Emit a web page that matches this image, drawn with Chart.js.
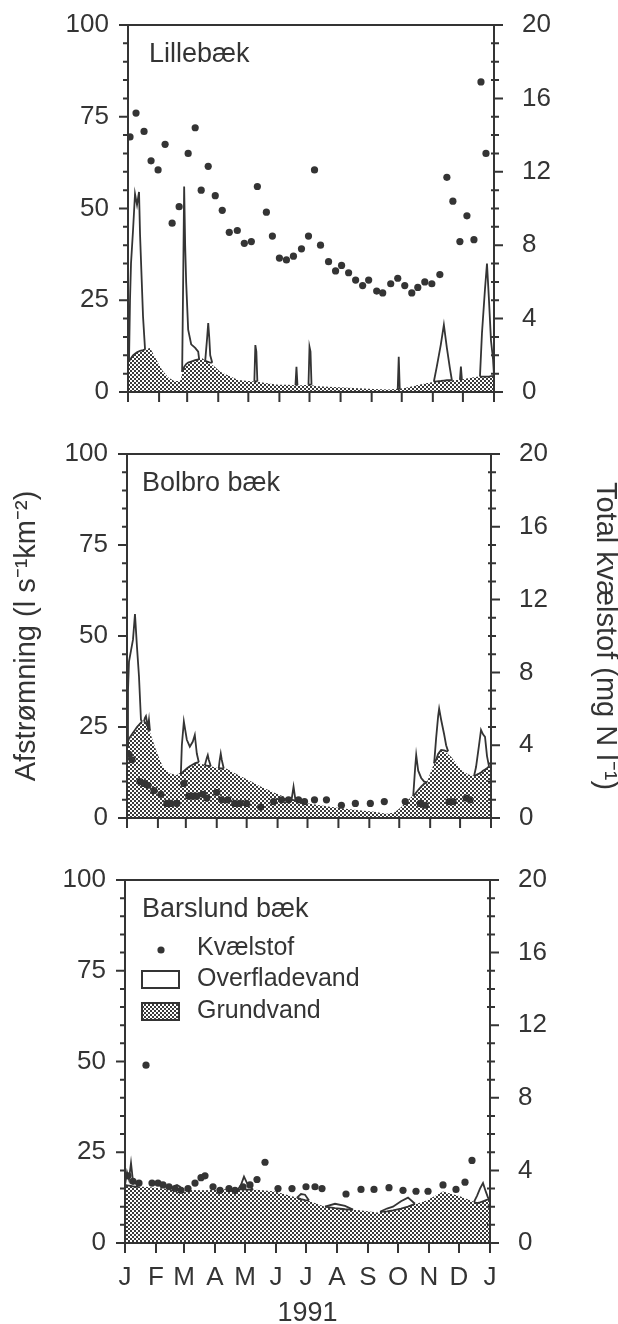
<!DOCTYPE html>
<html>
<head>
<meta charset="utf-8">
<script src="https://cdn.jsdelivr.net/npm/chart.js@4/dist/chart.umd.min.js"></script>
<style>
  html, body { margin: 0; background: #fff; }
  #wrap { position: relative; width: 618px; height: 1324px; overflow: hidden; }
  canvas { position: absolute; left: 0; }
</style>
</head>
<body>
<div id="wrap">
  <canvas id="lille" width="618" height="430" style="top:0"></canvas>
  <canvas id="bolbro" width="618" height="430" style="top:430px"></canvas>
  <canvas id="barslund" width="618" height="464" style="top:860px"></canvas>
</div>
<script>
const INK = '#343434';
const FONT = '"Liberation Sans", Arial, Helvetica, sans-serif';

// -- Axes ---------------------------------------------------------------
const monthStart = [0, 31, 59, 90, 120, 151, 181, 212, 243, 273, 304, 334, 365];
const monthLetters = ['J', 'F', 'M', 'A', 'M', 'J', 'J', 'A', 'S', 'O', 'N', 'D', 'J'];

// -- Lillebæk -------------------------------------------------------------
const lilleNDays = [2, 8, 16, 23, 30, 37, 44, 51, 60, 67, 73, 80, 87, 94, 101, 109, 116, 123, 129, 138,
    144, 151, 158, 165, 173, 180, 186, 192, 200, 207, 213, 220, 227, 234, 240, 248, 254, 262, 269, 276,
    283, 289, 296, 303, 311, 318, 324, 331, 338, 345, 352, 357];
const lilleN = [13.9, 15.2, 14.2, 12.6, 12.1, 13.5, 9.2, 10.1, 13.0, 14.4, 11.0, 12.3, 10.7, 9.9, 8.7, 8.8, 8.1, 8.2, 11.2, 9.8,
    8.5, 7.3, 7.2, 7.4, 7.8, 8.5, 12.1, 8.0, 7.1, 6.6, 6.9, 6.5, 6.1, 5.8, 6.1, 5.5, 5.4, 5.9, 6.2, 5.8,
    5.4, 5.7, 6.0, 5.9, 6.4, 11.7, 10.4, 8.2, 9.6, 8.3, 16.9, 13.0];
const lilleGwDays = [0, 5, 10, 16, 22, 28, 34, 40, 46, 52, 56, 62, 68, 74, 80, 86, 92, 100, 110, 120, 130,
    140, 150, 160, 170, 180, 190, 200, 215, 230, 245, 260, 275, 290, 300, 310, 320, 330, 340, 350, 358, 365];
const lilleGw = [8, 10, 11, 11.5, 12, 9, 6, 4, 3, 3, 7, 8.5, 9, 9.2, 8, 7, 5.5, 4.5, 3.3, 3, 2.8,
    2.3, 2, 2, 1.8, 2, 1.6, 1.4, 1.2, 1, 0.8, 0.7, 1, 2, 2.5, 3, 3.2, 3.3, 3.8, 4.2, 4.2, 4.5];
// surface-water events, separated by null
const lilleSurfDays = [1, 2, 3, 5, 7, 9, 11, 12, 15, 17, null,
    54, 55, 56, 57, 58, 60, 63, 67, 70, 71, null,
    77, 79, 80, 81, 82, 84, null,
    126, 127, 128, 129, null,
    167, 168, 169, null,
    180, 181, 182, 183, null,
    269, 270, 271, null,
    305, 308, 312, 315, 318, 321, 323, null,
    331, 332, 333, null,
    351, 353, 356, 358, 360, 362, 364, 365];
const lilleSurfTop = [8.4, 25, 35, 44, 54, 51, 54.5, 43, 20.5, 11.6, null,
    5.5, 30, 56, 40, 30, 17, 13, 12, 11, 8.8, null,
    8.5, 15, 18.8, 15, 10, 8, null,
    2.9, 12.8, 11, 2.9, null,
    1.9, 6.9, 1.9, null,
    2, 12.3, 11, 2, null,
    0.8, 9.6, 0.8, null,
    2.8, 7, 13, 18.3, 12, 6.5, 3.2, null,
    3.3, 6.9, 3.3, null,
    4.2, 16, 28, 35, 25, 14, 9, 4.5];
const lilleSurfBase = [8.4, 8.8, 9.2, 10, 10.4, 10.8, 11.1, 11.2, 11.4, 11.6, null,
    5.5, 6.2, 6.8, 7.2, 7.6, 8, 8.3, 8.7, 8.9, 8.8, null,
    8.5, 8.3, 8.2, 8.1, 8, 8, null,
    2.9, 2.9, 2.9, 2.9, null,
    1.9, 1.9, 1.9, null,
    2, 2, 2, 2, null,
    0.8, 0.8, 0.8, null,
    2.8, 2.9, 3, 3.1, 3.2, 3.2, 3.2, null,
    3.3, 3.3, 3.3, null,
    4.2, 4.2, 4.2, 4.2, 4.2, 4.3, 4.4, 4.5];

// -- Bolbro bæk -----------------------------------------------------------
const bolNDays = [2, 5, 13, 17, 21, 27, 34, 40, 44, 50, 57, 62, 66, 70, 76, 80, 90, 95, 101, 108,
    113, 120, 134, 147, 155, 162, 172, 178, 188, 200, 215, 229, 244, 258, 279, 294, 299, 323, 327, 340, 344];
const bolN = [3.5, 3.2, 2.0, 1.9, 1.8, 1.5, 1.3, 0.8, 0.8, 0.8, 1.9, 1.2, 1.2, 1.2, 1.3, 1.1, 1.4, 1.0, 1.0, 0.8,
    0.8, 0.8, 0.6, 0.9, 1.0, 1.0, 1.0, 0.9, 1.0, 1.0, 0.7, 0.8, 0.8, 0.9, 0.9, 0.8, 0.7, 0.9, 0.9, 1.1, 1.0];
const bolGwDays = [0, 5, 10, 15, 20, 25, 30, 36, 42, 50, 56, 62, 68, 76, 84, 92, 100, 110, 122, 135,
    149, 165, 182, 200, 215, 230, 248, 260, 268, 275, 282, 290, 295, 301, 305, 310, 315, 320, 325, 335,
    342, 349, 355, 362, 365];
const bolGw = [20, 22.6, 25, 26.5, 26, 22, 18, 14, 12.3, 11.8, 13, 14.5, 15.1, 14.8, 14.2, 13.7, 13.5, 12, 10.4, 8.5,
    6.8, 5, 4, 3.2, 2.7, 2.2, 1.7, 1.2, 1.5, 3, 5, 7, 8.6, 10, 13, 16.5, 18.7, 18, 16.8, 13.2,
    12, 11.4, 12.5, 14, 14.5];
const bolSurfDays = [0, 1, 2, 4, 6, 8, 10, 12, 14, 15, null,
    17, 18, 19, 21, 22, 23, null,
    54, 55, 57, 60, 63, 66, 68, 70, 72, null,
    78, 80, 81, 82, 84, null,
    92, 93, 94, 95, 97, null,
    165, 167, 169, null,
    287, 289, 290, 292, 295, 298, 301, null,
    308, 310, 312, 313, 315, 318, 320, 322, null,
    348, 350, 353, 355, 357, 359, 361, 363];
const bolSurfTop = [20, 35, 43, 46, 49, 56, 47, 39, 27, 26.5, null,
    26.5, 27.5, 28, 25, 27, 24, null,
    12, 20, 26.5, 21.5, 19.6, 21, 22.8, 17.7, 15.3, null,
    14.5, 16.5, 17.3, 16, 14.2, null,
    13.7, 16, 17.7, 16, 13.6, null,
    5, 8.6, 4.8, null,
    6, 14, 17.3, 13, 11, 10, 9.8, null,
    15, 22, 28, 30, 27, 23, 20, 18.3, null,
    11.5, 14, 20, 24.2, 23, 22.3, 17, 14.2];
const bolSurfBase = [20, 21, 21.8, 22.6, 23.4, 24.2, 25, 25.6, 26.2, 26.5, null,
    26.5, 26.3, 26, 25, 24.5, 24, null,
    12, 12.3, 12.9, 13.6, 14.2, 14.7, 15, 15.2, 15.3, null,
    14.5, 14.4, 14.3, 14.3, 14.2, null,
    13.7, 13.7, 13.6, 13.6, 13.6, null,
    5, 4.9, 4.8, null,
    6, 6.6, 7, 7.7, 8.6, 9.4, 9.8, null,
    15, 16, 17.6, 18, 18.7, 18.6, 18.4, 18.3, null,
    11.5, 11.8, 12.2, 12.5, 13, 13.3, 13.7, 14.2];

// -- Barslund bæk ---------------------------------------------------------
const barsNDays = [3, 8, 14, 21, 27, 33, 38, 44, 50, 56, 63, 70, 76, 80, 88, 95, 104, 110, 118, 125,
    132, 140, 153, 167, 181, 190, 197, 221, 236, 249, 264, 278, 291, 303, 318, 331, 340, 347];
const barsN = [3.7, 3.4, 3.3, 9.8, 3.3, 3.3, 3.2, 3.1, 3.0, 2.9, 3.0, 3.3, 3.6, 3.7, 3.1, 2.9, 3.0, 2.9, 3.1, 3.2,
    3.5, 4.45, 3.0, 3.0, 3.1, 3.1, 3.0, 2.7, 2.95, 2.95, 3.05, 2.9, 2.85, 2.85, 3.2, 2.95, 3.35, 4.55];
const barsGwDays = [0, 10, 20, 30, 45, 60, 80, 100, 118, 135, 150, 168, 185, 202, 218, 235, 252, 268, 285, 302,
    318, 335, 352, 362, 365];
const barsGw = [16, 15.5, 15.5, 15.2, 14.8, 14.6, 14.5, 14.8, 14.8, 14.6, 14.2, 12.8, 11.5, 9.8, 9.3, 9, 8.4, 9, 10.2, 11.8,
    14.2, 12.9, 11, 11.8, 12];
const barsSurfDays = [0, 2, 4, 6, 8, 10, 13, null,
    48, 50, 52, 55, 58, null,
    113, 116, 119, 122, 125, 128, null,
    172, 176, 180, 184, null,
    200, 210, 220, 228, null,
    255, 262, 268, 276, 283, 290, null,
    349, 352, 355, 358, 361, 363, 365];
const barsSurfTop = [16, 19.5, 17.5, 22, 17, 16.8, 15.5, null,
    14.8, 15.8, 16, 15.5, 14.6, null,
    14.8, 16, 18.3, 16.5, 15.5, 14.7, null,
    12.5, 13.5, 13.3, 11.7, null,
    10, 10.8, 10.2, 9.2, null,
    8.6, 9.5, 10, 11.5, 12.5, 10.8, null,
    11.3, 13, 15, 16.5, 14, 12.5, 12];
const barsSurfBase = [16, 15.9, 15.8, 15.7, 15.6, 15.5, 15.5, null,
    14.8, 14.7, 14.7, 14.6, 14.6, null,
    14.8, 14.8, 14.8, 14.7, 14.7, 14.7, null,
    12.5, 12.1, 11.8, 11.7, null,
    10, 9.6, 9.3, 9.2, null,
    8.6, 8.7, 9, 9.5, 10, 10.8, null,
    11.3, 11, 11.2, 11.5, 11.8, 12, 12];

Chart.defaults.font.family = FONT;
Chart.defaults.color = INK;

function points(days, vals) {
    return days.map((d, i) => ({ x: d, y: vals[i] }));
}

// split the null-separated surface arrays into closed top/base pairs
function events(days, top, base) {
    const out = [];
    let cur = null;
    days.forEach((d, i) => {
        if (d === null) { cur = null; return; }
        if (!cur) { cur = { top: [], base: [] }; out.push(cur); }
        cur.top.push({ x: d, y: top[i] });
        cur.base.push({ x: d, y: base[i] });
    });
    return out;
}

// coarse 2px checker, close to the printed screen tone
function stipple(ctx) {
    const t = document.createElement('canvas');
    t.width = t.height = 4;
    const g = t.getContext('2d');
    g.fillStyle = '#fff';
    g.fillRect(0, 0, 4, 4);
    g.fillStyle = '#3a3a3a';
    g.fillRect(0, 0, 2, 2);
    g.fillRect(2, 2, 2, 2);
    return ctx.createPattern(t, 'repeat');
}

// box round the plot + major/minor ticks, placed by the chart's own scales
const frame = {
    id: 'frame',
    afterDraw(chart) {
        const { ctx, chartArea: a, scales } = chart;
        ctx.save();
        ctx.strokeStyle = INK;
        ctx.lineWidth = 2;
        ctx.strokeRect(a.left, a.top, a.right - a.left, a.bottom - a.top);
        ctx.beginPath();
        scales.y.ticks.forEach((t) => {
            const y = scales.y.getPixelForValue(t.value);
            const len = t.value % 25 === 0 ? 9 : 5;
            ctx.moveTo(a.left - len, y);
            ctx.lineTo(a.left, y);
        });
        scales.y1.ticks.forEach((t) => {
            const y = scales.y1.getPixelForValue(t.value);
            if (t.value % 4 === 0) { ctx.moveTo(a.right, y); ctx.lineTo(a.right + 9, y); }
            else { ctx.moveTo(a.right - 3, y); ctx.lineTo(a.right + 5, y); }
        });
        scales.x.ticks.forEach((t) => {
            const x = scales.x.getPixelForValue(t.value);
            ctx.moveTo(x, a.bottom);
            ctx.lineTo(x, a.bottom + 10);
        });
        ctx.stroke();
        ctx.restore();
    },
};

const panelText = {
    id: 'panelText',
    afterDraw(chart, args, o) {
        const { ctx, chartArea: a } = chart;
        ctx.save();
        ctx.fillStyle = INK;
        ctx.textBaseline = 'middle';
        ctx.font = `27px ${FONT}`;
        ctx.fillText(o.title, a.left + o.dx, a.top + 30);
        if (o.legend) {
            ctx.font = `25px ${FONT}`;
            ctx.beginPath();
            ctx.arc(a.left + 36, a.top + 70, 3.6, 0, Math.PI * 2);
            ctx.fill();
            ctx.fillText('Kvælstof', a.left + 72, a.top + 68);
            ctx.fillText('Overfladevand', a.left + 72, a.top + 99);
            ctx.fillText('Grundvand', a.left + 72, a.top + 131);
            ctx.strokeStyle = INK;
            ctx.lineWidth = 2;
            ctx.strokeRect(a.left + 17, a.top + 91, 37, 17);
            ctx.fillStyle = o.pattern;
            ctx.fillRect(a.left + 17, a.top + 123, 37, 17);
            ctx.strokeRect(a.left + 17, a.top + 123, 37, 17);
        }
        ctx.restore();
    },
};

function noPad(s) {
    s.paddingTop = 0;
    s.paddingBottom = 0;
    s.paddingLeft = 0;
    s.paddingRight = 0;
}

function panel(id, p) {
    const ctx = document.getElementById(id).getContext('2d');
    const grund = stipple(ctx);
    const datasets = [{
        label: 'Kvælstof', yAxisID: 'y1', data: points(p.nDays, p.n),
        showLine: false, pointRadius: 3.6, pointBackgroundColor: INK, pointBorderWidth: 0, order: 0,
    }];
    events(p.surfDays, p.surfTop, p.surfBase).forEach((e) => {
        datasets.push({ label: 'Overfladevand', data: e.top, borderColor: INK, borderWidth: 1.8,
            backgroundColor: '#fff', fill: '+1', pointRadius: 0, order: 1 });
        datasets.push({ label: '', data: e.base, borderColor: INK, borderWidth: 1.8,
            fill: false, pointRadius: 0, order: 1 });
    });
    datasets.push({ label: 'Grundvand', data: points(p.gwDays, p.gw), borderWidth: 0,
        backgroundColor: grund, fill: 'origin', pointRadius: 0, order: 2 });

    const flowTicks = Array.from({ length: 21 }, (_, i) => i * 5);
    const nTicks = Array.from({ length: 21 }, (_, i) => i);

    new Chart(ctx, {
        type: 'line',
        data: { datasets },
        plugins: [frame, panelText],
        options: {
            responsive: false,
            animation: false,
            events: [],
            layout: { padding: { top: p.top, left: 0, right: 0, bottom: 0 } },
            plugins: {
                legend: { display: false },
                tooltip: { enabled: false },
                filler: { drawTime: 'beforeDatasetsDraw' },
                panelText: { title: p.title, dx: p.dx, legend: !!p.legend, pattern: grund },
            },
            scales: {
                x: {
                    type: 'linear', min: 0, max: 365,
                    grid: { display: false, drawTicks: false }, border: { display: false },
                    afterBuildTicks: (s) => { s.ticks = monthStart.map((v) => ({ value: v })); },
                    afterFit: (s) => { s.height = p.h - p.bottom; noPad(s); },
                    ticks: { autoSkip: false, maxRotation: 0, padding: 19, font: { size: 26 },
                        callback: (v, i) => (p.months ? monthLetters[i] : '') },
                    title: { display: !!p.months, text: '1991', font: { size: 27, lineHeight: 0.8 },
                        padding: { top: 0, bottom: 0 } },
                },
                y: {
                    position: 'left', min: 0, max: 100,
                    grid: { display: false, drawTicks: false }, border: { display: false },
                    afterBuildTicks: (s) => { s.ticks = flowTicks.map((v) => ({ value: v })); },
                    afterFit: (s) => { s.width = p.left; noPad(s); },
                    ticks: { autoSkip: false, padding: 19, font: { size: 26 },
                        callback: (v) => (v % 25 === 0 ? v : '') },
                    title: { display: !!p.axisTitles, text: 'Afstrømning (l s⁻¹km⁻²)',
                        font: { size: 29, lineHeight: 1 }, padding: { top: 12, bottom: 0 } },
                },
                y1: {
                    position: 'right', min: 0, max: 20,
                    grid: { display: false, drawTicks: false }, border: { display: false },
                    afterBuildTicks: (s) => { s.ticks = nTicks.map((v) => ({ value: v })); },
                    afterFit: (s) => { s.width = 618 - p.right; noPad(s); },
                    ticks: { autoSkip: false, padding: 28, font: { size: 26 },
                        callback: (v) => (v % 4 === 0 ? v : '') },
                    title: { display: !!p.axisTitles, text: 'Total kvælstof (mg N l⁻¹)',
                        font: { size: 29, lineHeight: 1 }, padding: { top: -1, bottom: 0 } },
                },
            },
        },
    });
}

panel('lille', {
    title: 'Lillebæk', dx: 21, h: 430, top: 25, bottom: 392, left: 128, right: 494,
    nDays: lilleNDays, n: lilleN, gwDays: lilleGwDays, gw: lilleGw,
    surfDays: lilleSurfDays, surfTop: lilleSurfTop, surfBase: lilleSurfBase,
});
panel('bolbro', {
    title: 'Bolbro bæk', dx: 15, h: 430, top: 24, bottom: 388, left: 127, right: 491, axisTitles: true,
    nDays: bolNDays, n: bolN, gwDays: bolGwDays, gw: bolGw,
    surfDays: bolSurfDays, surfTop: bolSurfTop, surfBase: bolSurfBase,
});
panel('barslund', {
    title: 'Barslund bæk', dx: 17, h: 464, top: 20, bottom: 383, left: 125, right: 490, months: true, legend: true,
    nDays: barsNDays, n: barsN, gwDays: barsGwDays, gw: barsGw,
    surfDays: barsSurfDays, surfTop: barsSurfTop, surfBase: barsSurfBase,
});
</script>
</body>
</html>
